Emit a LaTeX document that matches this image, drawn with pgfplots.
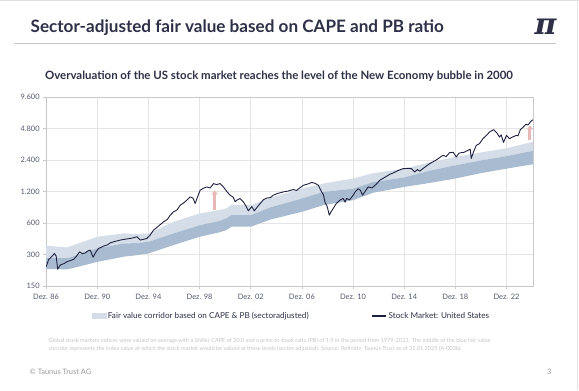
\documentclass[border=0pt]{standalone}
\usepackage{pgfplots}
\pgfplotsset{compat=1.18}
\usepackage{pgfplotstable}
\usetikzlibrary{arrows.meta}
\usepackage{fontspec}
\setmainfont{Lato}
\newfontfamily\logofont{DejaVu Serif}
\definecolor{titlec}{HTML}{2D3047}
\definecolor{navy}{HTML}{1E2140}
\definecolor{lightband}{HTML}{D4DDE8}
\definecolor{darkband}{HTML}{A9BBD0}
\definecolor{pinkc}{HTML}{E6B8B8}
\definecolor{gridc}{HTML}{E4E4E4}
\definecolor{axisc}{HTML}{C8C8C8}
\definecolor{tickc}{HTML}{555A6E}
\definecolor{footc}{HTML}{C4C4C4}
\definecolor{footc2}{HTML}{9A9A9A}

% upper half of the fair value corridor: top edge forward, middle edge back
\pgfplotstableread{
year val
1986.92 364
1988.56 350
1989.50 385
1990.92 443
1993.00 477
1994.00 470
1994.92 477
1996.88 616
1998.92 739
2000.50 800
2001.00 826
2001.40 895
2002.92 889
2004.50 1050
2006.92 1280
2008.60 1431
2010.92 1600
2012.50 1800
2014.92 1990
2016.90 2280
2018.92 2570
2020.90 2840
2022.92 3110
2024.98 3600
2024.98 2950
2022.92 2620
2020.90 2380
2018.92 2140
2016.90 1900
2014.92 1640
2012.50 1480
2010.92 1280
2008.60 1191
2006.92 1030
2004.50 850
2002.92 713
2001.40 713
2001.00 664
2000.50 630
1998.92 571
1996.88 477
1994.92 397
1994.00 385
1993.00 383
1990.92 343
1989.50 300
1988.56 276
1986.92 276
}\upperband

% lower half of the corridor: middle edge forward, bottom edge back
\pgfplotstableread{
year val
1986.92 276
1988.56 276
1989.50 300
1990.92 343
1993.00 383
1994.00 385
1994.92 397
1996.88 477
1998.92 571
2000.50 630
2001.00 664
2001.40 713
2002.92 713
2004.50 850
2006.92 1030
2008.60 1191
2010.92 1280
2012.50 1480
2014.92 1640
2016.90 1900
2018.92 2140
2020.90 2380
2022.92 2620
2024.98 2950
2024.98 2190
2022.92 1990
2020.90 1800
2018.92 1600
2016.90 1450
2014.92 1330
2012.50 1170
2010.92 993
2008.60 889
2006.92 768
2004.50 650
2002.92 553
2001.40 553
2001.00 513
2000.50 490
1998.92 443
1996.88 369
1994.92 307
1994.00 295
1993.00 286
1990.92 255
1989.50 230
1988.56 216
1986.92 218
}\lowerband

\pgfplotstableread{
year val
1986.92 229
1987.12 269
1987.40 290
1987.56 307
1987.70 290
1987.82 217
1988.03 238
1988.30 245
1988.56 256
1988.80 262
1989.07 269
1989.30 290
1989.54 318
1989.75 305
1989.98 311
1990.20 325
1990.37 330
1990.50 300
1990.59 282
1990.80 315
1991.02 343
1991.20 350
1991.41 361
1991.70 370
1991.94 388
1992.30 400
1992.72 412
1993.10 420
1993.50 427
1993.80 435
1994.02 443
1994.28 412
1994.50 418
1994.80 427
1995.05 460
1995.32 513
1995.70 560
1996.10 616
1996.40 650
1996.62 713
1996.88 768
1997.15 800
1997.40 889
1997.65 930
1997.92 993
1998.18 1067
1998.40 1040
1998.57 922
1998.80 1100
1998.96 1234
1999.20 1290
1999.48 1329
1999.75 1300
2000.00 1431
2000.25 1400
2000.52 1431
2000.78 1329
2001.05 1200
2001.30 1108
2001.55 1060
2001.70 960
2001.83 993
2002.08 1030
2002.34 956
2002.55 870
2002.73 785
2003.00 862
2003.20 785
2003.45 860
2003.65 920
2003.90 1000
2004.17 1040
2004.45 1050
2004.68 1108
2005.00 1150
2005.46 1191
2005.80 1210
2006.25 1255
2006.50 1230
2006.75 1300
2007.03 1378
2007.40 1420
2007.68 1466
2007.95 1440
2008.20 1378
2008.46 1191
2008.60 1120
2008.72 956
2008.90 860
2009.06 713
2009.20 770
2009.37 828
2009.60 920
2009.89 993
2010.15 1030
2010.30 950
2010.41 1030
2010.65 1000
2010.93 1108
2011.10 1200
2011.32 1279
2011.50 1230
2011.66 1108
2011.85 1200
2012.10 1330
2012.40 1300
2012.70 1400
2013.01 1540
2013.40 1640
2013.79 1756
2014.10 1820
2014.40 1900
2014.83 1990
2015.20 2000
2015.49 1990
2015.74 1845
2015.95 1950
2016.13 1880
2016.40 2000
2016.92 2225
2017.40 2400
2017.95 2667
2018.20 2600
2018.47 2830
2018.75 2850
2018.99 2570
2019.20 2800
2019.39 2830
2019.60 2850
2019.90 2980
2020.08 3050
2020.16 2490
2020.35 2900
2020.55 3320
2020.80 3450
2021.07 3850
2021.35 4150
2021.59 4460
2021.90 4700
2022.15 4400
2022.37 3990
2022.50 4200
2022.68 3550
2022.92 4140
2023.15 3850
2023.40 4000
2023.68 4140
2023.82 4100
2024.00 4700
2024.25 5000
2024.45 5300
2024.60 5200
2024.80 5600
2024.97 5850
}\stock

\begin{document}
\begin{tikzpicture}
\fill[white] (0,0) rectangle (579bp,-390bp);
\draw[gray!25, line width=1bp] (0,-0.5bp) -- (579bp,-0.5bp);
\draw[gray!20, line width=0.8bp] (578bp,0) -- (578bp,-390bp);
\node[anchor=base west, inner sep=0, text=titlec, font=\fontsize{17.2}{18}\selectfont\bfseries] at (30bp,-32bp) {Sector-adjusted fair value based on CAPE and PB ratio};
\draw[gray!45, line width=1.5bp] (14bp,-43bp) -- (556bp,-43bp);
\node[anchor=center, inner sep=0, text=titlec, font=\logofont\fontsize{30}{30}\selectfont\bfseries\itshape] at (546bp,-26bp) {π};
\node[anchor=base, inner sep=0, text=titlec, font=\fontsize{11.5}{12}\selectfont\bfseries] at (279bp,-79bp) {Overvaluation of the US stock market reaches the level of the New Economy bubble in 2000};

\begin{axis}[
  at={(45.7bp,-286bp)}, anchor=south west,
  scale only axis, width=487.6bp, height=189bp,
  xmin=1986.917, xmax=2024.98,
  ymode=log, log basis y=2, ymin=150, ymax=9600,
  xtick={1986.917,1990.917,1994.917,1998.917,2002.917,2006.917,2010.917,2014.917,2018.917,2022.917},
  xticklabels={Dez. 86,Dez. 90,Dez. 94,Dez. 98,Dez. 02,Dez. 06,Dez. 10,Dez. 14,Dez. 18,Dez. 22},
  ytick={150,300,600,1200,2400,4800,9600},
  yticklabels={150,300,600,1.200,2.400,4.800,9.600},
  grid=major, major grid style={gridc, line width=0.6bp},
  axis line style={axisc, line width=0.7bp},
  tick align=outside, major tick length=3bp,
  tick style={axisc, line width=0.6bp},
  xtick pos=bottom, ytick pos=left,
  ticklabel style={font=\fontsize{7.5}{8}\selectfont, text=tickc},
  xticklabel style={yshift=-1.5bp},
  legend style={at={(0.093,-0.159)}, anchor=west, draw=none, fill=none,
    font=\fontsize{8.2}{9}\selectfont, text=titlec, legend columns=2, inner sep=0pt,
    /tikz/every even column/.append style={column sep=61bp}},
  legend cell align=left,
]
\addplot[fill=lightband, draw=none, forget plot] table[x=year,y=val] {\upperband} -- cycle;
\addplot[fill=darkband, draw=none, forget plot] table[x=year,y=val] {\lowerband} -- cycle;
\addplot[pinkc, line width=3bp, -{Triangle[width=6bp,length=4bp]}, forget plot] coordinates {(2000.1,806) (2000.1,1234)};
\addplot[pinkc, line width=3bp, -{Triangle[width=6bp,length=4bp]}, forget plot] coordinates {(2024.75,3740) (2024.75,5150)};
\addplot[navy, line width=0.9bp, line join=round, forget plot] table[x=year,y=val] {\stock};
\addlegendimage{legend image code/.code={\fill[lightband] (0bp,-2.5bp) rectangle (14bp,2.5bp);}}
\addlegendentry{Fair value corridor based on CAPE \& PB (sectoradjusted)}
\addlegendimage{legend image code/.code={\draw[navy, line width=1.2bp] (0bp,0bp) -- (14bp,0bp);}}
\addlegendentry{Stock Market: United States}
\end{axis}

\node[anchor=base west, inner sep=0, text=footc, font=\fontsize{5.6}{6}\selectfont] at (48bp,-343bp) {Global stock markets indices were valued on average with a Shiller CAPE of 20.0 and a price-to-book ratio (PB) of 1.9 in the period from 1979-2022. The middle of the blue fair value};
\node[anchor=base west, inner sep=0, text=footc, font=\fontsize{5.6}{6}\selectfont] at (48bp,-351bp) {corridor represents the index value at which the stock market would be valued at these levels (sector-adjusted). Source: Refinitiv, Taunus Trust as of 31.01.2025 (A-003b).};
\node[anchor=base west, inner sep=0, text=footc2, font=\fontsize{7.5}{8}\selectfont] at (29bp,-375bp) {© Taunus Trust AG};
\node[anchor=base east, inner sep=0, text=footc2, font=\fontsize{7.5}{8}\selectfont] at (552bp,-375bp) {3};
\end{tikzpicture}
\end{document}
